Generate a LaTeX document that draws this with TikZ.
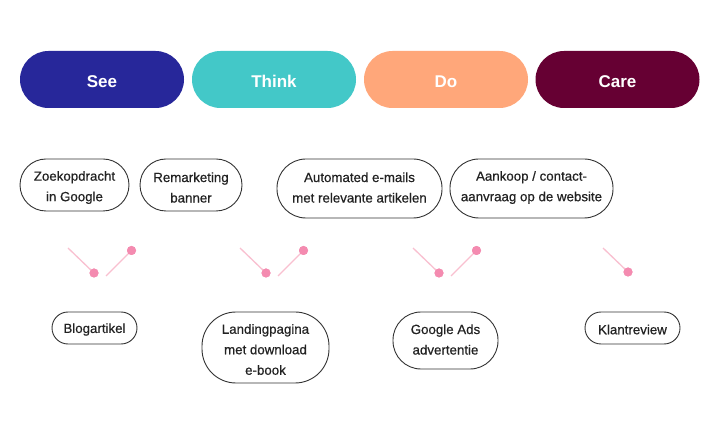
\documentclass[tikz,border=0pt]{standalone}
\usepackage{fontspec}
\setmainfont{Liberation Sans}
\newfontfamily\medfont[FakeBold=0.5]{Liberation Sans}
\definecolor{seec}{HTML}{27279A}
\definecolor{thinkc}{HTML}{43C8C8}
\definecolor{doc}{HTML}{FFA77A}
\definecolor{carec}{HTML}{660033}
\definecolor{pinkline}{HTML}{F9C0D0}
\definecolor{pinkdot}{HTML}{F48BB0}
\definecolor{edge}{HTML}{333333}
\definecolor{txt}{HTML}{222222}
\begin{document}
\begin{tikzpicture}[x=1pt,y=-1pt,
  phase/.style={rectangle,rounded corners=28.5pt,minimum width=164pt,minimum height=57pt,inner sep=0pt},
  phasetext/.style={text=white,inner sep=0pt,font=\fontsize{17}{20}\selectfont\bfseries},
  item/.style={rectangle,draw=edge,line width=0.9pt,inner sep=0pt},
  itemtext/.style={inner sep=0pt,text=txt,align=center,font=\medfont\fontsize{13.3}{20.5}\selectfont},
  pline/.style={pinkline,line width=1.3pt},
  pdot/.style={circle,fill=pinkdot,minimum size=9pt,inner sep=0pt}]
\useasboundingbox (0,0) rectangle (720,435);
\fill[white] (0,0) rectangle (720,435);
% phases
\node[phase,fill=seec] (see) at (102,79.5) {};
\node[phase,fill=thinkc] (think) at (274,79.5) {};
\node[phase,fill=doc] (do) at (446,79.5) {};
\node[phase,fill=carec] (care) at (617.5,79.5) {};
\node[phasetext] (see-t) at ([yshift=-2pt]see.center) {See};
\node[phasetext] (think-t) at ([yshift=-2pt]think.center) {Think};
\node[phasetext] (do-t) at ([yshift=-2pt]do.center) {Do};
\node[phasetext] (care-t) at ([yshift=-2pt]care.center) {Care};
% middle row
\node[item,minimum width=109pt,minimum height=52pt,rounded corners=26pt] (zoek) at (74.5,185) {};
\node[item,minimum width=102pt,minimum height=52pt,rounded corners=26pt] (remark) at (191,185) {};
\node[item,minimum width=165pt,minimum height=59pt,rounded corners=29pt] (auto) at (359.5,188.5) {};
\node[item,minimum width=163pt,minimum height=59pt,rounded corners=29pt] (aankoop) at (531.5,188.5) {};
\node[itemtext] (zoek-t) at (74.5,187.5) {Zoekopdracht\\in Google};
\node[itemtext] (remark-t) at (191,187.5) {Remarketing\\banner};
\node[itemtext] (auto-t) at (359.5,187.5) {Automated e-mails\\met relevante artikelen};
\node[itemtext] (aankoop-t) at (531.5,187.5) {Aankoop / contact-\\aanvraag op de website};
% bottom row
\node[item,minimum width=85pt,minimum height=32pt,rounded corners=16pt] (blog) at (94.5,328) {};
\node[item,minimum width=127pt,minimum height=71pt,rounded corners=34pt] (landing) at (265.5,347.5) {};
\node[item,minimum width=105pt,minimum height=57pt,rounded corners=28pt] (gads) at (445.5,340.5) {};
\node[item,minimum width=95pt,minimum height=32pt,rounded corners=16pt] (klant) at (632.5,328) {};
\node[itemtext] (blog-t) at (94.5,329.5) {Blogartikel};
\node[itemtext] (landing-t) at (265.5,349.5) {Landingpagina\\met download\\e-book};
\node[itemtext] (gads-t) at (445.5,339.5) {Google Ads\\advertentie};
\node[itemtext] (klant-t) at (632.5,329.5) {Klantreview};
% pink decorations
\foreach \i/\x in {1/68,2/240,3/413}{
  \coordinate (a\i) at (\x,248);
  \node[pdot] (d\i) at (\x+26,273) {};
  \coordinate (b\i) at (\x+38,276);
  \node[pdot] (e\i) at (\x+63.5,250.5) {};
  \draw[pline] (a\i) -- (d\i.center);
  \draw[pline] (b\i) -- (e\i.center);
  \node[pdot] at (d\i) {};
  \node[pdot] at (e\i) {};
}
\coordinate (a4) at (603,248);
\node[pdot] (d4) at (628,272) {};
\draw[pline] (a4) -- (d4.center);
\node[pdot] at (d4) {};
\end{tikzpicture}
\end{document}
